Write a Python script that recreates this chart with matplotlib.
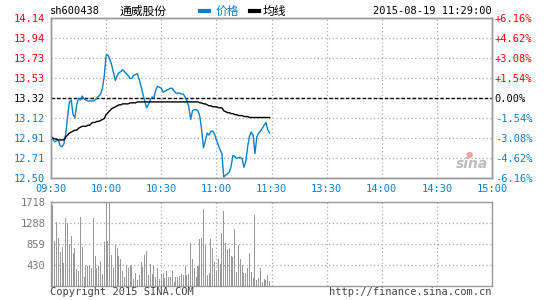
import matplotlib
matplotlib.use("Agg")
import matplotlib.pyplot as plt

# minute-by-minute data, 09:30 .. 11:29
price = [12.92, 12.90, 12.87, 12.88, 12.89, 12.83, 12.82, 12.85, 12.95, 13.12,
         13.28, 13.30, 13.15, 13.12, 13.25, 13.32, 13.30, 13.34, 13.31, 13.30,
         13.29, 13.29, 13.29, 13.29, 13.30, 13.32, 13.34, 13.36, 13.42, 13.55,
         13.76, 13.76, 13.72, 13.66, 13.58, 13.50, 13.55, 13.58, 13.59, 13.61,
         13.59, 13.57, 13.55, 13.52, 13.52, 13.55, 13.56, 13.57, 13.51, 13.44,
         13.36, 13.29, 13.22, 13.25, 13.30, 13.33, 13.32, 13.40, 13.44, 13.43,
         13.42, 13.38, 13.39, 13.40, 13.41, 13.42, 13.42, 13.39, 13.37, 13.37,
         13.37, 13.36, 13.36, 13.33, 13.29, 13.23, 13.10, 13.19, 13.20, 13.20,
         13.19, 13.13, 12.99, 12.81, 12.88, 12.96, 12.94, 12.98, 12.98, 12.95,
         12.89, 12.84, 12.79, 12.75, 12.51, 12.53, 12.54, 12.56, 12.62, 12.73,
         12.72, 12.70, 12.71, 12.71, 12.70, 12.61, 12.67, 12.82, 12.93, 12.97,
         12.94, 12.75, 12.92, 12.96, 12.98, 13.01, 13.04, 13.07, 12.99, 12.96]

avg_price = [12.92, 12.91, 12.90, 12.90, 12.89, 12.89, 12.89, 12.89, 12.92, 12.94,
             12.96, 12.97, 12.98, 12.99, 12.99, 13.01, 13.02, 13.03, 13.03, 13.03,
             13.04, 13.04, 13.06, 13.07, 13.07, 13.08, 13.08, 13.09, 13.10, 13.11,
             13.15, 13.17, 13.19, 13.21, 13.22, 13.23, 13.24, 13.25, 13.25, 13.26,
             13.26, 13.26, 13.26, 13.27, 13.27, 13.27, 13.27, 13.28, 13.28, 13.28,
             13.28, 13.28, 13.28, 13.28, 13.28, 13.28, 13.28, 13.28, 13.28, 13.28,
             13.28, 13.28, 13.28, 13.28, 13.28, 13.28, 13.28, 13.28, 13.28, 13.28,
             13.28, 13.28, 13.28, 13.28, 13.28, 13.28, 13.28, 13.28, 13.28, 13.28,
             13.28, 13.27, 13.27, 13.26, 13.26, 13.25, 13.24, 13.24, 13.23, 13.23,
             13.23, 13.22, 13.22, 13.22, 13.19, 13.18, 13.17, 13.17, 13.16, 13.16,
             13.15, 13.15, 13.14, 13.14, 13.14, 13.13, 13.13, 13.13, 13.12, 13.12,
             13.12, 13.12, 13.12, 13.12, 13.12, 13.12, 13.12, 13.12, 13.12, 13.12]

volume = [1620, 1656, 920, 1302, 988, 702, 804, 464, 1397, 1282,
          852, 1023, 668, 770, 354, 313, 1418, 804, 191, 430,
          416, 402, 361, 1397, 620, 361, 402, 518, 245, 907,
          1718, 920, 1718, 627, 361, 845, 770, 620, 552, 313,
          177, 430, 361, 416, 430, 143, 259, 129, 232, 500,
          380, 634, 716, 232, 443, 245, 416, 191, 361, 143,
          245, 259, 157, 313, 177, 191, 313, 75, 177, 191,
          204, 252, 230, 402, 218, 252, 873, 545, 375, 177,
          416, 961, 988, 1575, 845, 232, 259, 961, 784, 500,
          313, 552, 443, 1077, 1535, 873, 757, 784, 620, 586,
          1166, 279, 845, 552, 423, 272, 259, 361, 668, 293,
          157, 1452, 129, 157, 361, 75, 143, 129, 232, 100]

prev_close = 13.32
price_levels = [14.14, 13.94, 13.73, 13.53, 13.32, 13.12, 12.91, 12.71, 12.50]
pct_labels = ["+6.16%", "+4.62%", "+3.08%", "+1.54%", "0.00%",
              "-1.54%", "-3.08%", "-4.62%", "-6.16%"]
vol_levels = [430, 859, 1288, 1718]
time_labels = ["09:30", "10:00", "10:30", "11:00", "11:30",
               "13:30", "14:00", "14:30", "15:00"]

RED = "#ff0000"
BLUE = "#0a7fcc"
GRAY = "#999999"
MONO = "DejaVu Sans Mono"
CJK = ["Noto Sans CJK SC", "DejaVu Sans"]

fig = plt.figure(figsize=(5.45, 3.0), dpi=100)
ax = fig.add_axes([51/545, 1-178/300, 441/545, 160/300])
axv = fig.add_axes([51/545, 1-286/300, 441/545, 84/300])

minutes = list(range(len(price)))
xticks = [i*30 for i in range(9)]

# price panel
ax.plot(minutes, price, color=BLUE, lw=1.0, zorder=3)
ax.plot(minutes, avg_price, color="black", lw=1.0, zorder=3)
ax.axhline(prev_close, color="black", ls=(0, (2.5, 1.5)), lw=1.0, zorder=2)
ax.set_xlim(0, 240)
ax.set_ylim(12.50, 14.14)
ax.set_xticks(xticks)
ax.set_xticklabels(time_labels)
ax.set_yticks(price_levels)
ax.set_yticklabels(["%.2f" % v for v in price_levels])
ax.tick_params(length=0, labelsize=7.5, pad=4)
for lbl in ax.get_xticklabels():
    lbl.set_fontfamily(MONO)
    lbl.set_color(BLUE)
for lbl, v in zip(ax.get_yticklabels(), price_levels):
    lbl.set_fontfamily(MONO)
    lbl.set_color(RED if v > prev_close else ("black" if v == prev_close else BLUE))
ax.grid(True, ls=(0, (1, 2)), color="#aaaaaa", lw=0.9)

axr = ax.twinx()
axr.set_ylim(12.50, 14.14)
axr.set_yticks(price_levels)
axr.set_yticklabels(pct_labels)
axr.tick_params(length=0, labelsize=7.5, pad=2)
for lbl, v in zip(axr.get_yticklabels(), price_levels):
    lbl.set_fontfamily(MONO)
    lbl.set_color(RED if v > prev_close else ("black" if v == prev_close else BLUE))

for a in (ax, axr, axv):
    for s in a.spines.values():
        s.set_color(GRAY)
        s.set_linewidth(1.0)

# volume panel
axv.bar(minutes, volume, width=0.55, color=GRAY, zorder=3)
axv.set_xlim(0, 240)
axv.set_ylim(0, 1718)
axv.set_xticks(xticks)
axv.set_xticklabels([])
axv.set_yticks(vol_levels)
axv.set_yticklabels([str(v) for v in vol_levels])
axv.tick_params(length=0, labelsize=7.5, pad=4, labelcolor="#777777")
for lbl in axv.get_yticklabels():
    lbl.set_fontfamily(MONO)
axv.grid(True, ls=(0, (1, 2)), color="#aaaaaa", lw=0.9)

# header
fig.text(50/545, 1-11/300, "sh600438", family=MONO, fontsize=7.5, va="center")
fig.text(120/545, 1-11/300, "通威股份", family=CJK, fontsize=8.5, va="center")
fig.lines.append(plt.Line2D([200/545, 209/545], [1-11/300, 1-11/300],
                            transform=fig.transFigure, color=BLUE, lw=3))
fig.text(216/545, 1-11/300, "价格", family=CJK, fontsize=8.5, va="center", color=BLUE)
fig.lines.append(plt.Line2D([250/545, 259/545], [1-11/300, 1-11/300],
                            transform=fig.transFigure, color="black", lw=3))
fig.text(263/545, 1-11/300, "均线", family=CJK, fontsize=8.5, va="center")
fig.text(492/545, 1-11/300, "2015-08-19 11:29:00", family=MONO, fontsize=7.5,
         va="center", ha="right")

# footer
fig.text(50/545, 1-292/300, "Copyright 2015 SINA.COM", family=MONO, fontsize=7.5,
         va="center", color="#444444")
fig.text(492/545, 1-292/300, "http://finance.sina.com.cn", family=MONO, fontsize=7.5,
         va="center", ha="right", color="#444444")

# watermark
fig.text(472/545, 1-164/300, "sina", family="DejaVu Sans", fontsize=10,
         fontweight="bold", style="italic", color="#bbbbbb", ha="center", va="center")
fig.text(469/545, 1-154/300, "●", family="DejaVu Sans", fontsize=6,
         color="#f4a0a0", ha="center", va="center")

fig.savefig("out.png", dpi=100)
